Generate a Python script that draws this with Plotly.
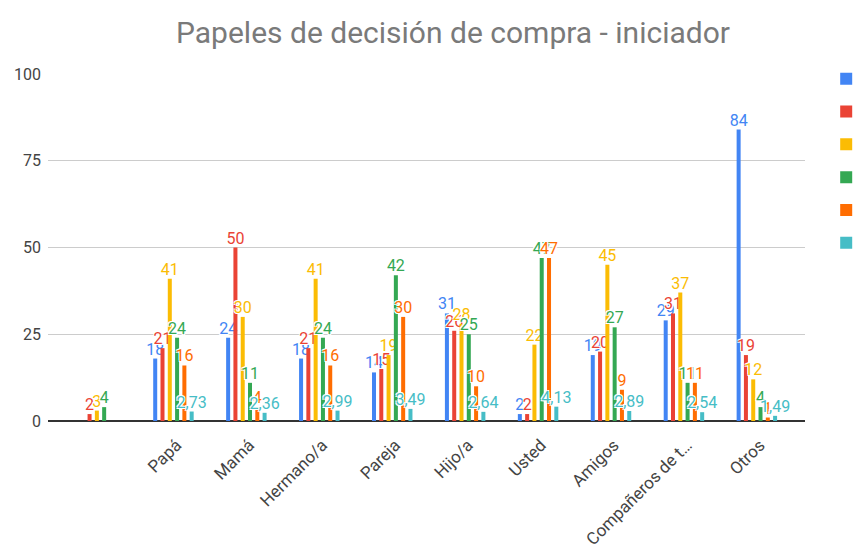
import plotly.graph_objects as go

# Categorías del eje X (la primera no tiene nombre)
categorias = [" ", "Papá", "Mamá", "Hermano/a", "Pareja", "Hijo/a", "Usted",
              "Amigos", "Compañeros de t…", "Otros"]

# Valores por serie
serie_1 = [None, 18, 24, 18, 14, 31, 2, 19, 29, 84]
serie_2 = [2, 21, 50, 21, 15, 26, 2, 20, 31, 19]
serie_3 = [3, 41, 30, 41, 19, 28, 22, 45, 37, 12]
serie_4 = [4, 24, 11, 24, 42, 25, 47, 27, 11, 4]
serie_5 = [None, 16, 4, 16, 30, 10, 47, 9, 11, 1]
serie_6 = [None, 2.73, 2.36, 2.99, 3.49, 2.64, 4.13, 2.89, 2.54, 1.49]

nombres = ["Serie 1", "Serie 2", "Serie 3", "Serie 4", "Serie 5", "Serie 6"]
series = [serie_1, serie_2, serie_3, serie_4, serie_5, serie_6]
colores = ["#4285F4", "#EA4335", "#FBBC04", "#34A853", "#FF6D01", "#46BDC6"]

y_ticks = [0, 25, 50, 75, 100]

FUENTE = "Roboto, Arial, sans-serif"
HALO = "-1px -1px 0 #fff, 1px -1px 0 #fff, -1px 1px 0 #fff, 1px 1px 0 #fff"


def etiqueta(v):
    if v is None:
        return ""
    if float(v).is_integer():
        return str(int(v))
    return f"{v:.2f}".replace(".", ",")


fig = go.Figure()
for i, (nombre, valores, color) in enumerate(zip(nombres, series, colores)):
    fig.add_trace(go.Bar(
        x=categorias,
        y=valores,
        name=nombre,
        marker=dict(color=color, line=dict(width=0)),
        text=[etiqueta(v) for v in valores],
        textposition="outside",
        constraintext="none",
        cliponaxis=False,
        textfont=dict(color=color, size=16, family=FUENTE, shadow=HALO),
        legendgroup=f"g{i}",
        hoverinfo="skip",
    ))

fig.update_layout(
    width=854,
    height=552,
    margin=dict(l=48, r=49, t=74, b=131, autoexpand=False),
    paper_bgcolor="white",
    plot_bgcolor="white",
    font=dict(family=FUENTE, color="#444"),
    title=dict(
        text="Papeles de decisión de compra - iniciador",
        font=dict(size=30, color="#7a7a7a", family=FUENTE),
        x=453 / 854, xref="container", xanchor="center",
        y=1 - 32 / 552, yref="container", yanchor="middle",
    ),
    barmode="group",
    bargap=0.4,
    bargroupgap=0.45,
    showlegend=True,
    legend=dict(
        x=1.028, y=1.035, xanchor="left", yanchor="top",
        tracegroupgap=9,
        font=dict(size=16, color="#222"),
        bgcolor="rgba(0,0,0,0)",
    ),
    xaxis=dict(
        type="category",
        range=[-0.72, 9.66],
        tickangle=-45,
        tickfont=dict(size=17, color="#444"),
        ticklabelshift=3,
        ticklabelstandoff=10,
        showgrid=False,
        showline=False,
        ticks="",
    ),
    yaxis=dict(
        range=[0, 100],
        tickvals=y_ticks,
        tickfont=dict(size=16, color="#444"),
        gridcolor="#cccccc",
        gridwidth=1,
        zeroline=True,
        zerolinecolor="#333333",
        zerolinewidth=1.5,
        showline=False,
        ticklabelstandoff=6,
    ),
)

fig.write_html("out.html")
